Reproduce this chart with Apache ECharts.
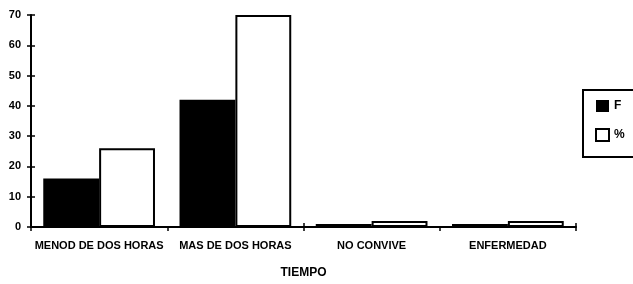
<!DOCTYPE html>
<html><head><meta charset="utf-8">
<script src="https://cdn.jsdelivr.net/npm/echarts@6/dist/echarts.min.js"></script>
<style>html,body{margin:0;padding:0;background:#fff}#c{width:633px;height:284px}</style>
</head><body><div id="c"></div>
<script>
const categories = ["MENOD DE DOS HORAS", "MAS DE DOS HORAS", "NO CONVIVE", "ENFERMEDAD"];
const seriesF = [16, 42, 1, 1];
const seriesPct = [26, 70, 2, 2];
const yTicks = [0, 10, 20, 30, 40, 50, 60, 70];
const axisTitle = "TIEMPO";

const FONT = '"Liberation Sans Narrow", "Liberation Sans", Arial, sans-serif';
const chart = echarts.init(document.getElementById('c'), null, {renderer: 'canvas'});
const yMin = yTicks[0], yMax = yTicks[yTicks.length - 1], yInt = yTicks[1] - yTicks[0];
chart.setOption({
  backgroundColor: '#fff',
  animation: false,
  grid: {left: 31, right: 57, top: 15, bottom: 52, containLabel: false},
  legend: {
    orient: 'vertical', left: 583, top: 90,
    padding: [10, 40, 15, 12],
    itemWidth: 13, itemHeight: 12, itemGap: 16,
    borderColor: '#000', borderWidth: 2, borderRadius: 0,
    textStyle: {fontFamily: FONT, fontWeight: 'bold', fontSize: 12, color: '#000'},
    data: [{name: 'F', icon: 'rect'}, {name: '%', icon: 'rect'}]
  },
  xAxis: [{
    type: 'category', data: categories,
    axisLine: {lineStyle: {color: '#000', width: 2}},
    axisTick: {show: true, length: 4, lineStyle: {color: '#000', width: 1.5}},
    axisLabel: {fontFamily: FONT, fontWeight: 'bold', fontSize: 11, color: '#000', margin: 13, interval: 0},
    name: axisTitle, nameLocation: 'middle', nameGap: 40,
    nameTextStyle: {fontFamily: FONT, fontWeight: 'bold', fontSize: 12, color: '#000'}
  }, {
    type: 'category', data: categories, position: 'bottom',
    axisLine: {show: false},
    axisTick: {show: true, inside: true, length: 4, lineStyle: {color: '#000', width: 1.5}},
    axisLabel: {show: false}
  }],
  yAxis: [{
    type: 'value', min: yMin, max: yMax, interval: yInt,
    axisLine: {show: true, lineStyle: {color: '#000', width: 2}},
    axisTick: {show: true, length: 4, lineStyle: {color: '#000', width: 1.5}},
    splitLine: {show: false},
    axisLabel: {fontFamily: FONT, fontWeight: 'bold', fontSize: 11, color: '#000', margin: 10}
  }, {
    type: 'value', min: yMin, max: yMax, interval: yInt, position: 'left',
    axisLine: {show: false},
    axisTick: {show: true, inside: true, length: 4, lineStyle: {color: '#000', width: 1.5}},
    splitLine: {show: false},
    axisLabel: {show: false}
  }],
  series: [{
    name: 'F', type: 'bar', data: seriesF, xAxisIndex: 0, yAxisIndex: 0,
    barGap: '0%', barCategoryGap: '18%',
    itemStyle: {color: '#000', borderColor: '#000', borderWidth: 0}
  }, {
    name: '%', type: 'bar', data: seriesPct, xAxisIndex: 0, yAxisIndex: 0,
    itemStyle: {color: '#fff', borderColor: '#000', borderWidth: 2}
  }]
});
</script></body></html>
